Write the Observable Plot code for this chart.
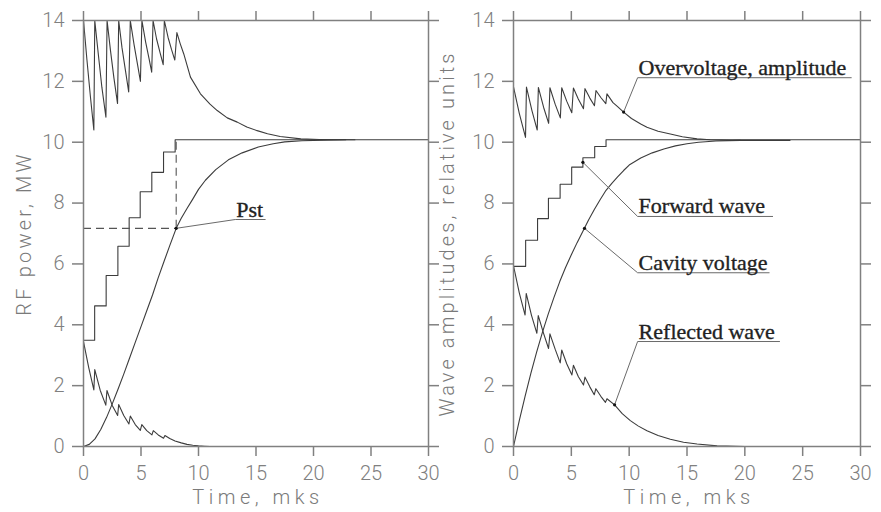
<!DOCTYPE html>
<html><head><meta charset="utf-8">
<script src="https://cdn.jsdelivr.net/npm/d3@7"></script>
<script src="https://cdn.jsdelivr.net/npm/@observablehq/plot@0.6"></script>
<style>
body{margin:0;background:#fff;}
#wrap{position:relative;width:881px;height:512px;overflow:hidden;background:#fff;}
#wrap svg{position:absolute;top:0;}
</style></head><body><div id="wrap"></div>
<script>
// ---------- ticks ----------
const xTicks = [0, 5, 10, 15, 20, 25, 30];
const yTicks = [0, 2, 4, 6, 8, 10, 12, 14];

// ---------- LEFT PANEL: RF power, MW ----------
const leftOverT = [0, 0.3, 0.6, 0.9, 0.98, 1.3, 1.6, 1.95, 2.05, 2.35, 2.65, 2.96, 3.06, 3.35, 3.65, 3.93, 4.07, 4.4, 4.7, 4.95, 5.08, 5.4, 5.7, 5.93, 6.05, 6.35, 6.65, 6.93, 7.03, 7.35, 7.65, 7.94, 8.12, 8.4, 8.72, 9.3, 10.17, 11.0, 11.63, 12.5, 13.37, 14.2, 15.1, 16.0, 17.1, 18.9, 20.5, 22.0, 23.6];
const leftOverV = [14, 12.7, 11.5, 10.4, 14, 12.85, 11.8, 10.82, 14, 13.0, 12.1, 11.27, 14, 13.1, 12.35, 11.65, 14, 13.2, 12.55, 12.0, 14, 13.3, 12.75, 12.3, 14, 13.4, 12.95, 12.55, 14, 13.45, 13.05, 12.7, 13.6, 13.25, 12.9, 12.14, 11.59, 11.25, 11.04, 10.8, 10.66, 10.5, 10.38, 10.28, 10.19, 10.11, 10.09, 10.08, 10.08];

const leftFwdT = [0, 0.97, 1.97, 2.99, 3.97, 4.93, 5.94, 6.96, 7.97, 30];
const leftFwdV = [3.49, 4.62, 5.62, 6.58, 7.52, 8.37, 9.01, 9.68, 10.08, 10.08];

const leftCavT = [0, 0.5, 1.0, 1.5, 2.0, 2.5, 3.0, 3.5, 4.0, 4.5, 5.0, 5.5, 6.0, 6.5, 7.0, 7.5, 8.06, 8.5, 9.0, 9.5, 10.0, 10.6, 11.5, 12.6, 13.8, 15.2, 16.5, 17.5, 19.0, 21.0, 22.8];
const leftCavV = [0, 0.07, 0.25, 0.56, 0.95, 1.4, 1.88, 2.38, 2.9, 3.42, 3.94, 4.46, 4.98, 5.55, 6.08, 6.6, 7.17, 7.5, 7.82, 8.13, 8.45, 8.75, 9.1, 9.42, 9.65, 9.84, 9.95, 10.01, 10.05, 10.07, 10.08];

const leftRefT = [0, 0.45, 0.9, 0.98, 1.45, 1.94, 2.04, 2.5, 2.97, 3.06, 3.5, 3.95, 4.07, 4.5, 4.94, 5.07, 5.5, 5.95, 6.07, 6.5, 6.96, 7.08, 7.5, 7.96, 8.5, 9.0, 9.5, 10.0, 10.5, 11.0, 15.7];
const leftRefV = [3.45, 2.6, 1.86, 2.53, 1.85, 1.36, 1.84, 1.35, 1.02, 1.38, 1.02, 0.74, 1.0, 0.72, 0.53, 0.72, 0.52, 0.38, 0.52, 0.38, 0.27, 0.36, 0.26, 0.18, 0.12, 0.07, 0.04, 0.02, 0.01, 0, 0];

// Pst guide (dashed)
const pstT = 8.06;
const pstV = 7.17;
const pstTopV = 10.0;

// left annotation
const leftAnnLabel = ["Pst"];
const leftAnnPointT = [8.06];
const leftAnnPointV = [7.17];
const leftAnnElbowT = [13.2];
const leftAnnElbowV = [7.46];
const leftAnnEndT = [15.8];

// ---------- RIGHT PANEL: Wave amplitudes ----------
const rightOverT = [0, 0.5, 1.04, 1.12, 1.6, 2.05, 2.15, 2.6, 3.04, 3.15, 3.6, 4.05, 4.17, 4.6, 5.04, 5.18, 5.6, 6.05, 6.18, 6.6, 7.0, 7.13, 7.55, 7.98, 8.08, 8.6, 9.0, 9.52, 10.2, 11.0, 11.54, 12.5, 13.56, 14.6, 15.87, 17.0, 18.75, 21.0, 23.9];
const rightOverV = [11.82, 10.95, 10.16, 11.81, 11.03, 10.4, 11.8, 11.15, 10.62, 11.79, 11.25, 10.8, 11.79, 11.35, 10.97, 11.78, 11.42, 11.1, 11.76, 11.45, 11.2, 11.7, 11.47, 11.27, 11.59, 11.3, 11.17, 10.99, 10.78, 10.6, 10.49, 10.36, 10.27, 10.18, 10.11, 10.08, 10.06, 10.06, 10.06];

const rightFwdT = [0, 1.05, 2.08, 3.02, 4.03, 5.03, 6.0, 7.02, 8.0, 30];
const rightFwdV = [5.92, 6.78, 7.49, 8.16, 8.62, 9.18, 9.49, 9.86, 10.08, 10.08];

const rightCavT = [0, 0.5, 1.0, 1.5, 2.0, 2.5, 3.0, 3.5, 4.0, 4.5, 5.0, 5.5, 6.0, 6.5, 7.0, 7.5, 8.0, 8.5, 9.0, 9.52, 10.0, 11.0, 12.0, 13.0, 14.0, 15.0, 16.0, 17.5, 19.6];
const rightCavV = [0, 0.85, 1.65, 2.4, 3.1, 3.75, 4.35, 4.9, 5.42, 5.88, 6.3, 6.7, 7.07, 7.45, 7.8, 8.12, 8.42, 8.65, 8.86, 9.07, 9.25, 9.48, 9.65, 9.78, 9.88, 9.95, 10.0, 10.04, 10.06];

const rightRefT = [0, 0.5, 1.0, 1.1, 1.55, 2.02, 2.14, 2.6, 3.03, 3.15, 3.6, 4.04, 4.17, 4.6, 5.05, 5.18, 5.6, 6.05, 6.18, 6.6, 6.98, 7.12, 7.55, 7.95, 8.08, 8.74, 9.4, 10.1, 10.8, 11.54, 12.5, 13.56, 14.7, 15.87, 17.6, 20.0, 28.5];
const rightRefV = [5.94, 5.05, 4.32, 5.03, 4.32, 3.72, 4.3, 3.72, 3.22, 3.7, 3.2, 2.75, 3.17, 2.72, 2.35, 2.67, 2.3, 2.02, 2.28, 1.96, 1.7, 1.9, 1.65, 1.45, 1.57, 1.37, 1.08, 0.85, 0.67, 0.52, 0.36, 0.24, 0.14, 0.08, 0.02, 0, 0];

const rightAnnLabel = ["Overvoltage, amplitude", "Forward wave", "Cavity voltage", "Reflected wave"];
const rightAnnPointT = [9.52, 6.0, 6.14, 8.74];
const rightAnnPointV = [10.99, 9.34, 7.17, 1.37];
const rightAnnElbowT = [10.73, 10.73, 10.73, 10.73];
const rightAnnElbowV = [12.12, 7.56, 5.71, 3.45];
const rightAnnEndT = [29.2, 22.4, 22.1, 23.0];

// ---------- styling ----------
const axisColor = "#808080";
const textColor = "#7a7a7a";
const curveColor = "#3c3c3c";
const tickFont = "Roboto, 'Liberation Sans', sans-serif";
const annFont = "'Liberation Serif', 'DejaVu Serif', serif";

const pts = (ts, vs) => ts.map((t, i) => ({t, v: vs[i]}));

function annotationMarks(labels, pT, pV, eT, eV, endT) {
  const lines = [];
  labels.forEach((lab, i) => {
    lines.push({k: i, t: pT[i], v: pV[i]});
    lines.push({k: i, t: eT[i], v: eV[i]});
    lines.push({k: i, t: endT[i], v: eV[i]});
  });
  const texts = labels.map((lab, i) => ({lab, t: eT[i], v: eV[i]}));
  const dots = labels.map((lab, i) => ({t: pT[i], v: pV[i]}));
  return [
    Plot.line(lines, {x: "t", y: "v", z: "k", stroke: "#6a6a6a", strokeWidth: 1}),
    Plot.dot(dots, {x: "t", y: "v", r: 1.6, fill: "#111", stroke: null}),
    Plot.text(texts, {x: "t", y: "v", text: "lab", textAnchor: "start", lineAnchor: "bottom", dx: 1, dy: -3,
      fontFamily: annFont, fontSize: 22, fill: "#222", stroke: "#222", strokeWidth: 0.35})
  ];
}

function axes() {
  return [
    Plot.frame({stroke: axisColor, strokeWidth: 1.5}),
    Plot.axisX({anchor: "bottom", ticks: xTicks, tickSize: 10, tickPadding: 9, label: null,
      color: axisColor, fontSize: 20, fontFamily: tickFont, fontWeight: 300, strokeWidth: 1.5}),
    Plot.axisX({anchor: "top", ticks: xTicks, tickSize: 10, tickFormat: () => "", label: null,
      color: axisColor, strokeWidth: 1.5}),
    Plot.axisY({anchor: "left", ticks: yTicks, tickSize: 11, tickPadding: 8, label: null,
      color: axisColor, fontSize: 20, fontFamily: tickFont, fontWeight: 300, strokeWidth: 1.5}),
    Plot.axisY({anchor: "right", ticks: yTicks, tickSize: 10, tickFormat: () => "", label: null,
      color: axisColor, strokeWidth: 1.5})
  ];
}

function panel(width, marginLeft, marginRight, ylabel, ylabelDx, marks) {
  return Plot.plot({
    width, height: 512,
    marginLeft, marginRight, marginTop: 20, marginBottom: 66,
    x: {domain: [0, 30]},
    y: {domain: [0, 14]},
    style: {background: "white", overflow: "visible"},
    marks: [
      ...marks,
      ...axes(),
      Plot.text(["Time, mks"], {text: d => d, frameAnchor: "bottom", dy: 51, dx: 2, textAnchor: "middle", lineAnchor: "middle",
        fontSize: 20, fontFamily: tickFont, fontWeight: 300, fill: textColor}),
      Plot.text([ylabel], {text: d => d, frameAnchor: "left", rotate: -90, dx: ylabelDx, textAnchor: "middle", lineAnchor: "middle",
        fontSize: 20, fontFamily: tickFont, fontWeight: 300, fill: textColor})
    ]
  });
}

const lineOpts = {x: "t", y: "v", stroke: curveColor, strokeWidth: 1.1};

const left = panel(440, 83, 12, "RF power, MW", -59, [
  Plot.line(pts(leftFwdT, leftFwdV), {...lineOpts, curve: "step-after"}),
  Plot.line(pts(leftOverT, leftOverV), lineOpts),
  Plot.line(pts(leftCavT, leftCavV), lineOpts),
  Plot.line(pts(leftRefT, leftRefV), lineOpts),
  Plot.ruleY([pstV], {x1: 0, x2: pstT, stroke: "#555", strokeWidth: 1.1, strokeDasharray: "8,5"}),
  Plot.ruleX([pstT], {y1: pstV, y2: pstTopV, stroke: "#555", strokeWidth: 1.1, strokeDasharray: "8,5"}),
  ...annotationMarks(leftAnnLabel, leftAnnPointT, leftAnnPointV, leftAnnElbowT, leftAnnElbowV, leftAnnEndT)
]);

const right = panel(441, 73, 21, "Wave amplitudes, relative units", -66, [
  Plot.line(pts(rightFwdT, rightFwdV), {...lineOpts, curve: "step-after"}),
  Plot.line(pts(rightOverT, rightOverV), lineOpts),
  Plot.line(pts(rightCavT, rightCavV), lineOpts),
  Plot.line(pts(rightRefT, rightRefV), lineOpts),
  ...annotationMarks(rightAnnLabel, rightAnnPointT, rightAnnPointV, rightAnnElbowT, rightAnnElbowV, rightAnnEndT)
]);

left.style.left = "0px";
right.style.left = "440px";
const wrap = document.getElementById("wrap");
wrap.appendChild(left);
wrap.appendChild(right);

// letter spacing for the axis titles (plotter-style lettering)
const spaced = {"Time, mks": "4.5px", "RF power, MW": "3.2px", "Wave amplitudes, relative units": "3.1px"};
d3.selectAll("#wrap svg text").each(function() {
  const s = this.textContent;
  if (spaced[s]) this.style.letterSpacing = spaced[s];
});
</script></body></html>
